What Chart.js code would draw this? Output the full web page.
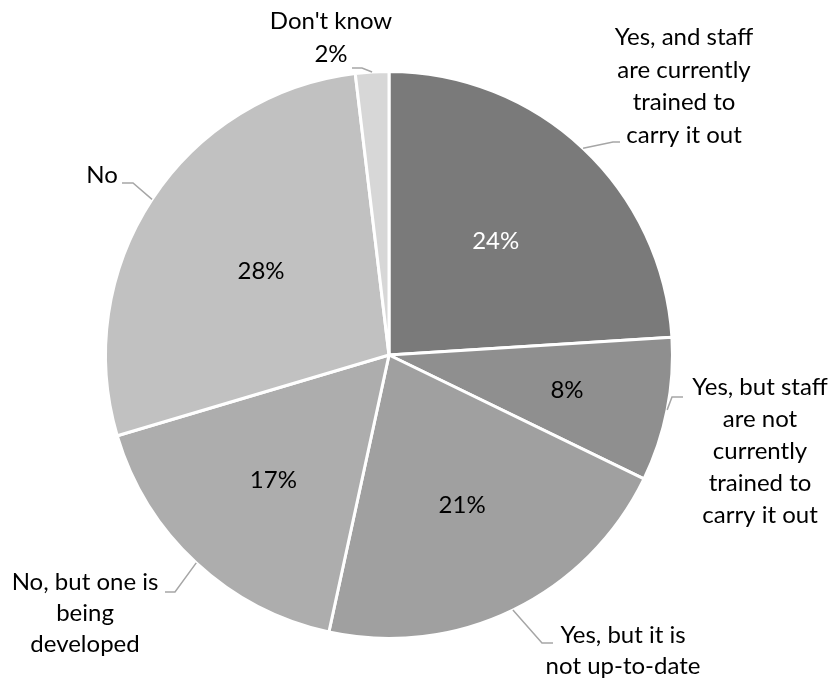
<!DOCTYPE html>
<html>
<head>
<meta charset="utf-8">
<script src="https://cdn.jsdelivr.net/npm/chart.js@4.4.1/dist/chart.umd.min.js"></script>
<style>
  body { margin: 0; background: #fff; }
  #wrap { width: 833px; height: 679px; }
</style>
</head>
<body>
<div id="wrap"><canvas id="myChart" width="833" height="679"></canvas></div>
<script>
// data (slice sizes estimated from the angles, shown rounded)
var categories = [
  'Yes, and staff are currently trained to carry it out',
  'Yes, but staff are not currently trained to carry it out',
  'Yes, but it is not up-to-date',
  'No, but one is being developed',
  'No',
  "Don't know"
];
var shares = [24.0, 8.2, 21.2, 17.0, 27.7, 1.9];
var sliceColors = ['#7a7a7a', '#8f8f8f', '#a0a0a0', '#adadad', '#c1c1c1', '#d7d7d7'];

// wrapped text of the category labels
var labelLines = [
  ['Yes, and staff', 'are currently', 'trained to', 'carry it out'],
  ['Yes, but staff', 'are not', 'currently', 'trained to', 'carry it out'],
  ['Yes, but it is', 'not up-to-date'],
  ['No, but one is', 'being', 'developed'],
  ['No'],
  ["Don't know"]
];

// where the outside labels sit (text centre x, first baseline, leader bend, stub end)
var labelLayout = [
  { cx: 684, y: 45, lh: 32.5, bend: [613, 142], stub: [620, 142] },
  { cx: 760, y: 395, lh: 32, bend: [672, 397], stub: [683, 397] },
  { cx: 623, y: 643, lh: 31, bend: [542, 643], stub: [553, 643] },
  { cx: 85, y: 590, lh: 31, bend: [175, 592], stub: [165, 592] },
  { cx: 102, y: 183, lh: 32, bend: [133, 183], stub: [122, 183] },
  { cx: 331, y: 29, lh: 33, bend: [362, 68], stub: [352, 68] }
];
// how far in the slice the percentage sits (share of radius), null = outside
var pctRadius = [0.55, 0.64, 0.59, 0.6, 0.54, null];

var FONT = '24px Lato';

var pieLabels = {
  id: 'pieLabels',
  afterDatasetsDraw: function(chart) {
    var ctx = chart.ctx;
    var meta = chart.getDatasetMeta(0);
    ctx.save();
    ctx.font = FONT;
    ctx.textAlign = 'center';
    ctx.textBaseline = 'alphabetic';
    meta.data.forEach(function(arc, i) {
      var p = arc.getProps(['x', 'y', 'startAngle', 'endAngle', 'outerRadius'], true);
      var mid = (p.startAngle + p.endAngle) / 2;
      var pct = Math.round(shares[i]) + '%';

      // percentage inside the slice
      if (pctRadius[i] !== null) {
        var r = p.outerRadius * pctRadius[i];
        ctx.fillStyle = i === 0 ? '#ffffff' : '#000000';
        ctx.fillText(pct, p.x + Math.cos(mid) * r, p.y + Math.sin(mid) * r + 8);
      }

      // leader line from the slice edge
      var lay = labelLayout[i];
      var ex = p.x + Math.cos(mid) * p.outerRadius;
      var ey = p.y + Math.sin(mid) * p.outerRadius;
      ctx.strokeStyle = '#a6a6a6';
      ctx.lineWidth = 1.5;
      ctx.beginPath();
      ctx.moveTo(ex, ey);
      ctx.lineTo(lay.bend[0], lay.bend[1]);
      ctx.lineTo(lay.stub[0], lay.stub[1]);
      ctx.stroke();

      // category text
      ctx.fillStyle = '#000000';
      var lines = labelLines[i].slice();
      if (pctRadius[i] === null) lines.push(pct);
      lines.forEach(function(t, k) {
        ctx.fillText(t, lay.cx, lay.y + k * lay.lh);
      });
    });
    ctx.restore();
  }
};

var ctx = document.getElementById('myChart');
var myPieChart = new Chart(ctx, {
  type: 'pie',
  data: {
    labels: categories,
    datasets: [{
      data: shares,
      backgroundColor: sliceColors,
      borderColor: '#ffffff',
      borderWidth: 3
    }]
  },
  options: {
    responsive: false,
    animation: false,
    layout: { padding: { left: 104, right: 159, top: 70, bottom: 39 } },
    plugins: {
      legend: { display: false },
      tooltip: { enabled: false }
    }
  },
  plugins: [pieLabels]
});
</script>
</body>
</html>
